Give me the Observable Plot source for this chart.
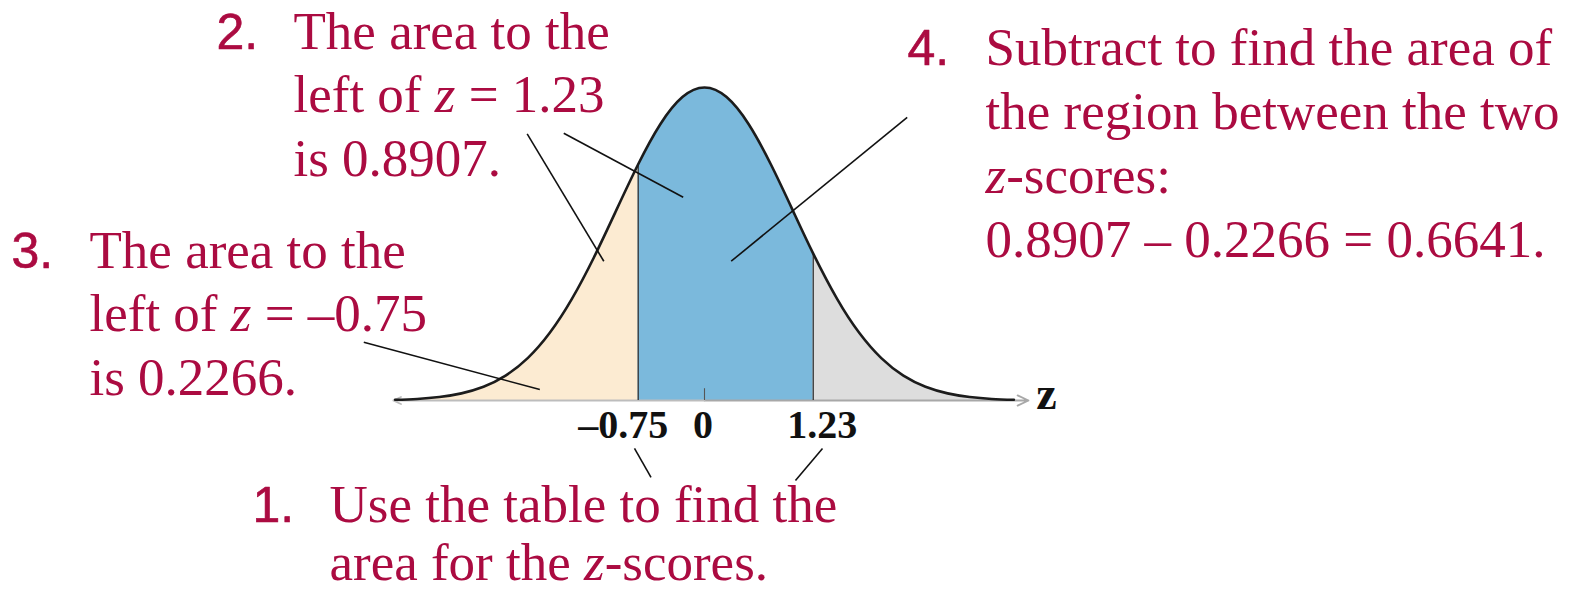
<!DOCTYPE html>
<html><head><meta charset="utf-8">
<script src="https://cdn.jsdelivr.net/npm/d3@7"></script>
<script src="https://cdn.jsdelivr.net/npm/@observablehq/plot@0.6"></script>
<style>html,body{margin:0;padding:0;background:#fff;} svg{display:block}</style>
</head><body><div id="chart"></div>
<script>
// ---- data ----
const zValues = [-3.5,-3.25,-3,-2.75,-2.5,-2.25,-2,-1.75,-1.5,-1.25,-1,-0.75,-0.5,-0.25,0,0.25,0.5,0.75,1,1.23,1.5,1.75,2,2.25,2.5,2.75,3,3.25,3.5];
const density = [0.0009,0.0020,0.0044,0.0091,0.0175,0.0317,0.0540,0.0863,0.1295,0.1826,0.2420,0.3011,0.3521,0.3867,0.3989,0.3867,0.3521,0.3011,0.2420,0.1872,0.1295,0.0863,0.0540,0.0317,0.0175,0.0091,0.0044,0.0020,0.0009];
const zCuts = [-0.75, 1.23];
const tickValues = [-0.75, 0, 1.23];
const tickLabels = ["\u20130.75", "0", "1.23"];
const areaLeftLow = "0.2266";
const areaLeftHigh = "0.8907";
const areaBetween = "0.6641";
const axisExtent = [-3.52, 3.665];

// annotation leader lines (in z / density units)
const leaders = [
  {x1: -2.006, y1: 0.3397, x2: -1.139, y2: 0.1775},
  {x1: -1.592, y1: 0.3405, x2: -0.241, y2: 0.2590},
  {x1: 2.293, y1: 0.3609, x2: 0.302, y2: 0.1775},
  {x1: -3.854, y1: 0.0743, x2: -1.863, y2: 0.0140},
  {x1: -0.792, y1: -0.0611, x2: -0.605, y2: -0.0981},
  {x1: 1.335, y1: -0.0611, x2: 1.029, y2: -0.1019}
];

// ---- build ----
const pts = zValues.map((z, i) => ({z, d: density[i]}));
const left = pts.filter(p => p.z <= zCuts[0]);
const mid = pts.filter(p => p.z >= zCuts[0] && p.z <= zCuts[1]);
const right = pts.filter(p => p.z >= zCuts[1]);
const dAt = z => pts.find(p => p.z === z).d;

const CRIMSON = "#ab0b41";
const SERIF = "'Liberation Serif', 'Times New Roman', serif";
const SANS = "'Liberation Sans', Arial, sans-serif";

const blocks = [
  {num: "2.", nx: 216, x: 293, y0: 48, lines: ["The area to the", "left of z = " + tickLabels[2], "is " + areaLeftHigh + "."]},
  {num: "3.", nx: 11, x: 89, y0: 267, lines: ["The area to the", "left of z = " + tickLabels[0], "is " + areaLeftLow + "."]},
  {num: "4.", nx: 907, x: 985, y0: 64, gap: 64, lines: ["Subtract to find the area of", "the region between the two", "z-scores:", areaLeftHigh + " \u2013 " + areaLeftLow + " = " + areaBetween + "."]},
  {num: "1.", nx: 252, x: 329, y0: 521, gap: 58, lines: ["Use the table to find the", "area for the z-scores."]}
];

const textMarks = [];
for (const b of blocks) {
  const gap = b.gap ?? 63.5;
  textMarks.push(Plot.text([b.num], {frameAnchor: "top-left", dx: b.nx, dy: b.y0, textAnchor: "start", lineAnchor: "bottom", fontFamily: SANS, fontSize: 50, fill: CRIMSON, stroke: CRIMSON, strokeWidth: 0.6}));
  b.lines.forEach((t, i) => {
    textMarks.push(Plot.text([t], {frameAnchor: "top-left", dx: b.x, dy: b.y0 + i * gap, textAnchor: "start", lineAnchor: "bottom", fontFamily: SERIF, fontSize: 53, fill: CRIMSON}));
  });
}

const tickOffsets = [-15, -1.5, 9];
const tickMarks = tickValues.map((v, i) => Plot.text([tickLabels[i]], {x: () => v, y: () => 0, dx: tickOffsets[i], dy: 37, textAnchor: "middle", lineAnchor: "bottom", fontFamily: SERIF, fontWeight: "bold", fontSize: 40, fill: "#111"}));

const chart = Plot.plot({
  width: 1572, height: 591, margin: 0,
  style: {background: "white", overflow: "visible"},
  x: {domain: [0, 1], range: [704, 704 + 88.4], axis: null},
  y: {domain: [0, 0.3989], range: [400, 87], axis: null},
  marks: [
    Plot.areaY(left, {x: "z", y: "d", fill: "#fcebd2", curve: "natural"}),
    Plot.areaY(mid, {x: "z", y: "d", fill: "#7bb9dc", curve: "natural"}),
    Plot.areaY(right, {x: "z", y: "d", fill: "#dddddd", curve: "natural"}),
    Plot.arrow([axisExtent], {x1: 0, x2: d => d[1], y1: 0, y2: 0, stroke: "#a8a8a8", strokeWidth: 1.8, headLength: 10, headAngle: 50}),
    Plot.arrow([axisExtent], {x1: 0, x2: d => d[0], y1: 0, y2: 0, stroke: "#bdbdbd", strokeWidth: 1.8, headLength: 7, headAngle: 50}),
    Plot.ruleX(zCuts, {x: d => d, y1: 0, y2: d => dAt(d), stroke: "#333", strokeWidth: 1.3}),
    Plot.ruleX([0], {x: d => d, y1: 0, y2: 0.015, stroke: "#555", strokeWidth: 1.1}),
    Plot.line(pts, {x: "z", y: "d", stroke: "#1c1c1c", strokeWidth: 2.6, curve: "natural"}),
    Plot.link(leaders, {x1: "x1", y1: "y1", x2: "x2", y2: "y2", stroke: "#111", strokeWidth: 1.6}),
    ...tickMarks,
    Plot.text(["z"], {x: () => axisExtent[1], y: () => 0, dx: 18, dy: 8, textAnchor: "middle", lineAnchor: "bottom", fontFamily: SERIF, fontWeight: "bold", fontSize: 46, fill: "#111"}),
    ...textMarks
  ]
});

// italic z in annotation text
d3.select(chart).selectAll("g").filter(function() { return this.getAttribute("fill") === CRIMSON; }).selectAll("text").each(function() {
  const s = this.textContent;
  if (!/\bz\b/.test(s)) return;
  const parts = s.split(/(\bz\b)/);
  this.textContent = "";
  for (const p of parts) {
    if (!p) continue;
    const ts = document.createElementNS("http://www.w3.org/2000/svg", "tspan");
    if (p === "z") ts.setAttribute("font-style", "italic");
    ts.textContent = p;
    this.appendChild(ts);
  }
});

document.getElementById("chart").appendChild(chart);
</script>
</body></html>
